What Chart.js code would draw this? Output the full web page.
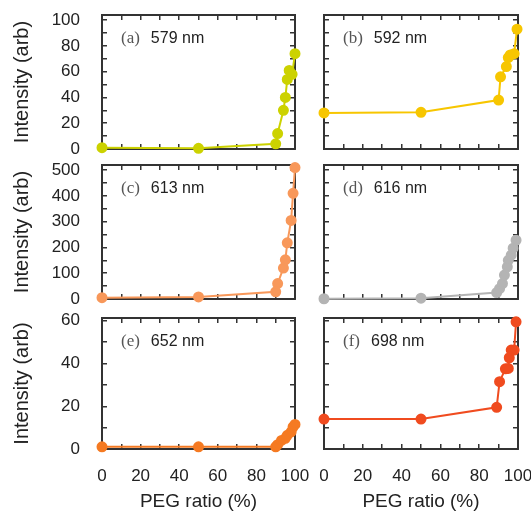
<!DOCTYPE html>
<html><head><meta charset="utf-8">
<script src="https://cdn.jsdelivr.net/npm/chart.js@4"></script>
<style>
html,body{margin:0;padding:0;background:#fff;width:531px;height:513px;overflow:hidden}
canvas{position:absolute;left:0;top:0}
</style></head>
<body>
<canvas id="p0" width="531" height="513"></canvas>
<canvas id="p1" width="531" height="513"></canvas>
<canvas id="p2" width="531" height="513"></canvas>
<canvas id="p3" width="531" height="513"></canvas>
<canvas id="p4" width="531" height="513"></canvas>
<canvas id="p5" width="531" height="513"></canvas>
<script>
// ---- data ----
const panelLetters = ['(a)', '(b)', '(c)', '(d)', '(e)', '(f)'];
const wavelengths = ['579 nm', '592 nm', '613 nm', '616 nm', '652 nm', '698 nm'];
const xTickLabels = ['0', '20', '40', '60', '80', '100'];
const yTickLabelsRow1 = ['0', '20', '40', '60', '80', '100'];
const yTickLabelsRow2 = ['0', '100', '200', '300', '400', '500'];
const yTickLabelsRow3 = ['0', '20', '40', '60'];

const pegA = [0, 50, 90, 91, 94, 95, 96, 97, 98.5, 100];
const intA = [1, 0.5, 4, 12, 30, 40, 54, 61, 58, 74];
const pegB = [0, 50, 90, 91, 94, 95, 96, 98, 99.5];
const intB = [28, 28.5, 38, 56, 64, 71, 73, 74, 93];
const pegC = [0, 50, 90, 91, 94, 95, 96, 98, 99, 100];
const intC = [5, 8, 28, 60, 120, 152, 218, 305, 410, 510];
const pegD = [0, 50, 89, 90.5, 92, 93, 94.5, 95, 96.5, 97.5, 99];
const intD = [1, 3, 25, 40, 60, 93, 125, 150, 170, 197, 228];
const pegE = [0, 50, 90, 91, 93, 95, 96, 98, 99, 100];
const intE = [1, 1, 1, 2, 4, 5, 6.4, 8, 10.3, 11.5];
const pegF = [0, 50, 89, 90.5, 93.5, 95, 95.5, 96.5, 98, 99];
const intF = [14, 14, 19.5, 31.5, 37.5, 37.7, 42.7, 46.3, 46.3, 59.5];

const xTitle = 'PEG ratio (%)';
const yTitle = 'Intensity (arb)';

// ---- styles / layout ----
const colors = ['#ccd200', '#f7c600', '#f8985a', '#b4b4b4', '#f57a22', '#f04b1f'];
const colLeft = [102, 324], colRight = [295, 518];
const rowTop = [15, 165, 318], rowBottom = [149, 299, 449];
const rowMax = [104, 520, 61.3], rowStep = [10, 50, 10];
const rowLabels = [yTickLabelsRow1, yTickLabelsRow2, yTickLabelsRow3];
const W = 531, H = 513;
const frame = '#333';
const textCol = '#222';
const sans = '"Liberation Sans", Arial, sans-serif';

function zeroPad(s) { s.paddingTop = 0; s.paddingBottom = 0; s.paddingLeft = 0; s.paddingRight = 0; }

const labelPlugin = {
  id: 'panelLabel',
  afterDraw(chart, args, opts) {
    const {ctx, chartArea} = chart;
    ctx.save();
    ctx.textBaseline = 'middle';
    ctx.textAlign = 'left';
    const x0 = chartArea.left + 19, y0 = chartArea.top + 24;
    ctx.font = '17px "Liberation Serif", "Times New Roman", serif';
    ctx.fillStyle = '#555';
    ctx.fillText(opts.letter, x0, y0);
    const w = ctx.measureText(opts.letter).width;
    ctx.font = '16px ' + sans;
    ctx.fillStyle = textCol;
    ctx.fillText(opts.wl, x0 + w + 11, y0);
    ctx.restore();
  }
};

const series = [[pegA, intA], [pegB, intB], [pegC, intC], [pegD, intD], [pegE, intE], [pegF, intF]];

series.forEach(([xs, ys], i) => {
  const row = Math.floor(i / 2), col = i % 2;
  const L = colLeft[col], R = colRight[col], T = rowTop[row], B = rowBottom[row];
  const showY = col === 0, showX = row === 2;
  const yLabels = rowLabels[row];
  const gridOpts = {drawOnChartArea: false, tickLength: -5, color: frame, lineWidth: 1.5};
  const borderOpts = {color: frame, width: 2};
  new Chart(document.getElementById('p' + i), {
    type: 'line',
    data: {
      datasets: [{
        data: xs.map((x, k) => ({x: x, y: ys[k]})),
        borderColor: colors[i],
        backgroundColor: colors[i],
        pointBackgroundColor: colors[i],
        pointBorderColor: colors[i],
        pointRadius: 4.5,
        borderWidth: 2,
        tension: 0,
        clip: false
      }]
    },
    options: {
      responsive: false,
      animation: false,
      events: [],
      layout: {padding: {left: 0, top: T, right: W - R, bottom: 0}},
      plugins: {
        legend: {display: false},
        tooltip: {enabled: false},
        panelLabel: {letter: panelLetters[i], wl: wavelengths[i]}
      },
      scales: {
        x: {
          type: 'linear', position: 'bottom', min: 0, max: 100,
          ticks: {
            stepSize: 10, autoSkip: false, includeBounds: false, maxRotation: 0, maxTicksLimit: 30,
            display: showX, padding: 22, color: textCol,
            font: {family: sans, size: 17},
            callback: v => xTickLabels.includes(String(v)) ? String(v) : ''
          },
          grid: gridOpts, border: borderOpts,
          title: {display: showX, text: xTitle, color: textCol, font: {family: sans, size: 19}, padding: {top: 0, bottom: 0}},
          afterFit(s) { s.height = H - B; zeroPad(s); }
        },
        x2: {
          type: 'linear', position: 'top', min: 0, max: 100,
          ticks: {stepSize: 10, includeBounds: false, display: false, maxTicksLimit: 30},
          grid: gridOpts, border: borderOpts,
          afterFit(s) { s.height = 0; zeroPad(s); }
        },
        y: {
          type: 'linear', position: 'left', min: 0, max: rowMax[row],
          ticks: {
            stepSize: rowStep[row], autoSkip: false, includeBounds: false, maxTicksLimit: 30,
            display: showY, padding: 27, color: textCol,
            font: {family: sans, size: 17},
            callback: v => yLabels.includes(String(v)) ? String(v) : ''
          },
          grid: gridOpts, border: borderOpts,
          title: {display: showY, text: yTitle, color: textCol, font: {family: sans, size: 20}, padding: {top: 10, bottom: 0}},
          afterFit(s) { s.width = L; zeroPad(s); }
        },
        y2: {
          type: 'linear', position: 'right', min: 0, max: rowMax[row],
          ticks: {stepSize: rowStep[row], includeBounds: false, display: false, maxTicksLimit: 30},
          grid: gridOpts, border: borderOpts,
          afterFit(s) { s.width = 0; zeroPad(s); }
        }
      }
    },
    plugins: [labelPlugin]
  });
});
</script>
</body></html>
